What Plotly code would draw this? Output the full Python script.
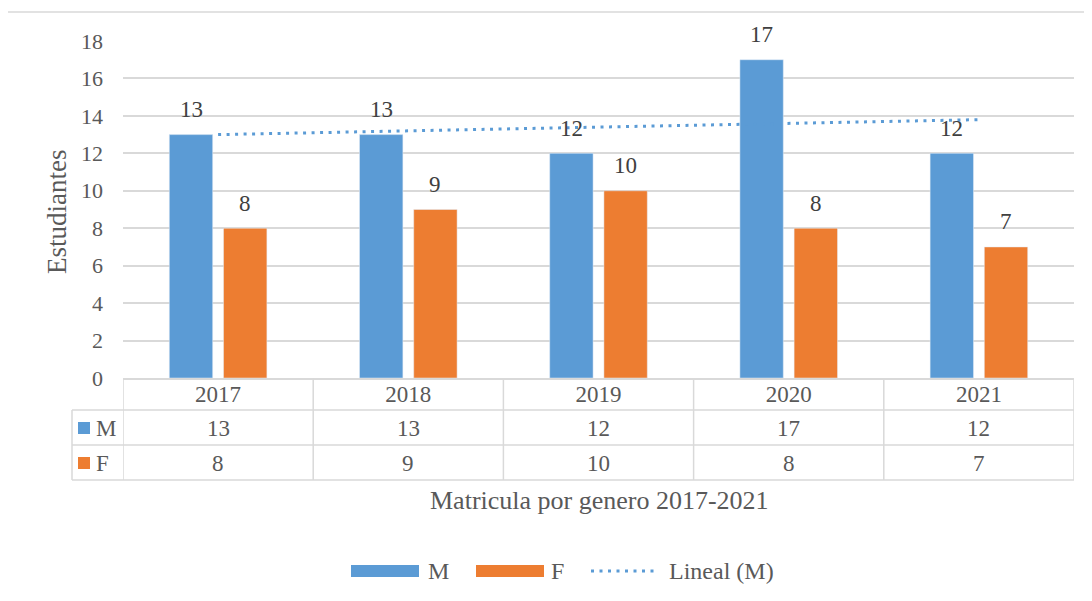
import numpy as np
import plotly.graph_objects as go

years = ["2017", "2018", "2019", "2020", "2021"]
series_names = ["M", "F"]
m_values = [13, 13, 12, 17, 12]
f_values = [8, 9, 10, 8, 7]
trend_name = "Lineal (M)"
x_title = "Matricula por genero 2017-2021"
y_title = "Estudiantes"

BLUE = "#5B9BD5"
ORANGE = "#ED7D31"
GRID = "#D9D9D9"
TXT = "#595959"
LBL = "#404040"
FONT = "Liberation Serif, Times New Roman, DejaVu Serif, serif"

# page body has an 8px margin; work in screen pixels and convert
OFF = 8
W, H = 1092 - OFF, 601 - OFF
L, R, T, B = 123, 1074, 41, 378  # plot area in screen pixels


def px(p):
    return (p - L) / (R - L)


def py(p):
    return (B - p) / (B - T)


# linear trendline of M (as Excel computes)
xi = np.arange(1, len(m_values) + 1)
slope, icpt = np.polyfit(xi, m_values, 1)
trend = slope * xi + icpt

fig = go.Figure()
fig.add_trace(go.Bar(x=years, y=m_values, name=series_names[0], marker_color=BLUE))
fig.add_trace(go.Bar(x=years, y=f_values, name=series_names[1], marker_color=ORANGE))
fig.add_trace(go.Scatter(x=years, y=trend, name=trend_name, mode="lines",
                         line=dict(color=BLUE, width=3, dash="3px,5.5px")))

ann = []
shapes = []
colors = [BLUE, ORANGE]
vals = [m_values, f_values]

# data labels
for s, (v, shift) in enumerate(zip(vals, [-27, 27])):
    for i, val in enumerate(v):
        ann.append(dict(x=i, y=val, xref="x", yref="y", text=str(val), showarrow=False,
                        xshift=shift, yshift=25, yanchor="middle", xanchor="center",
                        font=dict(family=FONT, size=23, color=LBL)))

# data table
row_centers = [428, 463]
for s in range(2):
    for i, val in enumerate(vals[s]):
        ann.append(dict(x=i, y=py(row_centers[s]), xref="x", yref="paper", text=str(val),
                        showarrow=False, yanchor="middle", xanchor="center",
                        font=dict(family=FONT, size=23, color=TXT)))
    shapes.append(dict(type="rect", xref="paper", yref="paper",
                       x0=px(78), x1=px(90), y0=py(row_centers[s] + 6), y1=py(row_centers[s] - 6),
                       fillcolor=colors[s], line=dict(width=0)))
    ann.append(dict(x=px(94), y=py(row_centers[s]), xref="paper", yref="paper",
                    text=series_names[s], showarrow=False, xanchor="left", yanchor="middle",
                    font=dict(family=FONT, size=23, color=TXT)))

line_style = dict(color=GRID, width=1.5)
for yl in [410, 445, 480]:
    shapes.append(dict(type="line", xref="paper", yref="paper", x0=px(72), x1=1,
                       y0=py(yl), y1=py(yl), line=line_style))
shapes.append(dict(type="line", xref="paper", yref="paper", x0=px(72), x1=px(72),
                   y0=py(410), y1=py(480), line=line_style))
for k in range(len(years) + 1):
    shapes.append(dict(type="line", xref="x", yref="paper", x0=k - 0.5, x1=k - 0.5,
                       y0=0, y1=py(480), line=line_style))

# outer chart border
shapes.append(dict(type="rect", xref="paper", yref="paper", x0=px(7), x1=px(1110),
                   y0=py(12), y1=py(620), line=line_style, fillcolor="rgba(0,0,0,0)"))

# titles
ann.append(dict(x=px(599), y=py(500), xref="paper", yref="paper", text=x_title, showarrow=False,
                xanchor="center", yanchor="middle",
                font=dict(family=FONT, size=26, color=TXT)))
ann.append(dict(x=px(57), y=py(212), xref="paper", yref="paper", text=y_title, showarrow=False,
                textangle=-90, xanchor="center", yanchor="middle",
                font=dict(family=FONT, size=27, color=TXT)))

# legend (manual, Excel-style)
ly = 571
shapes.append(dict(type="rect", xref="paper", yref="paper", x0=px(351), x1=px(419),
                   y0=py(ly + 6), y1=py(ly - 6), fillcolor=BLUE, line=dict(width=0)))
ann.append(dict(x=px(426), y=py(ly), xref="paper", yref="paper", text=series_names[0],
                showarrow=False, xanchor="left", yanchor="middle",
                font=dict(family=FONT, size=24, color=TXT)))
shapes.append(dict(type="rect", xref="paper", yref="paper", x0=px(476), x1=px(544),
                   y0=py(ly + 6), y1=py(ly - 6), fillcolor=ORANGE, line=dict(width=0)))
ann.append(dict(x=px(549), y=py(ly), xref="paper", yref="paper", text=series_names[1],
                showarrow=False, xanchor="left", yanchor="middle",
                font=dict(family=FONT, size=24, color=TXT)))
shapes.append(dict(type="line", xref="paper", yref="paper", x0=px(591), x1=px(656),
                   y0=py(ly), y1=py(ly), line=dict(color=BLUE, width=3, dash="3px,5.5px")))
ann.append(dict(x=px(667), y=py(ly), xref="paper", yref="paper", text=trend_name,
                showarrow=False, xanchor="left", yanchor="middle",
                font=dict(family=FONT, size=24, color=TXT)))

fig.update_layout(
    width=W, height=H,
    margin=dict(l=L - OFF, r=(W + OFF) - R, t=T - OFF, b=(H + OFF) - B, pad=0),
    paper_bgcolor="white", plot_bgcolor="white",
    barmode="group", bargap=0.43, bargroupgap=0.2,
    showlegend=False,
    annotations=ann, shapes=shapes,
    font=dict(family=FONT, color=TXT),
)
fig.update_xaxes(type="category", range=[-0.5, len(years) - 0.5], showline=True,
                 linecolor=GRID, linewidth=1.5,
                 showgrid=False, ticks="", tickfont=dict(family=FONT, size=23, color=TXT),
                 ticklabelstandoff=-5, automargin=False)
fig.update_yaxes(range=[0, 18], dtick=2, showgrid=True, gridcolor=GRID, gridwidth=1.5,
                 zeroline=False, showline=False, ticks="",
                 tickfont=dict(family=FONT, size=22, color=TXT), ticklabelstandoff=19,
                 automargin=False)

fig.write_html("out.html")
